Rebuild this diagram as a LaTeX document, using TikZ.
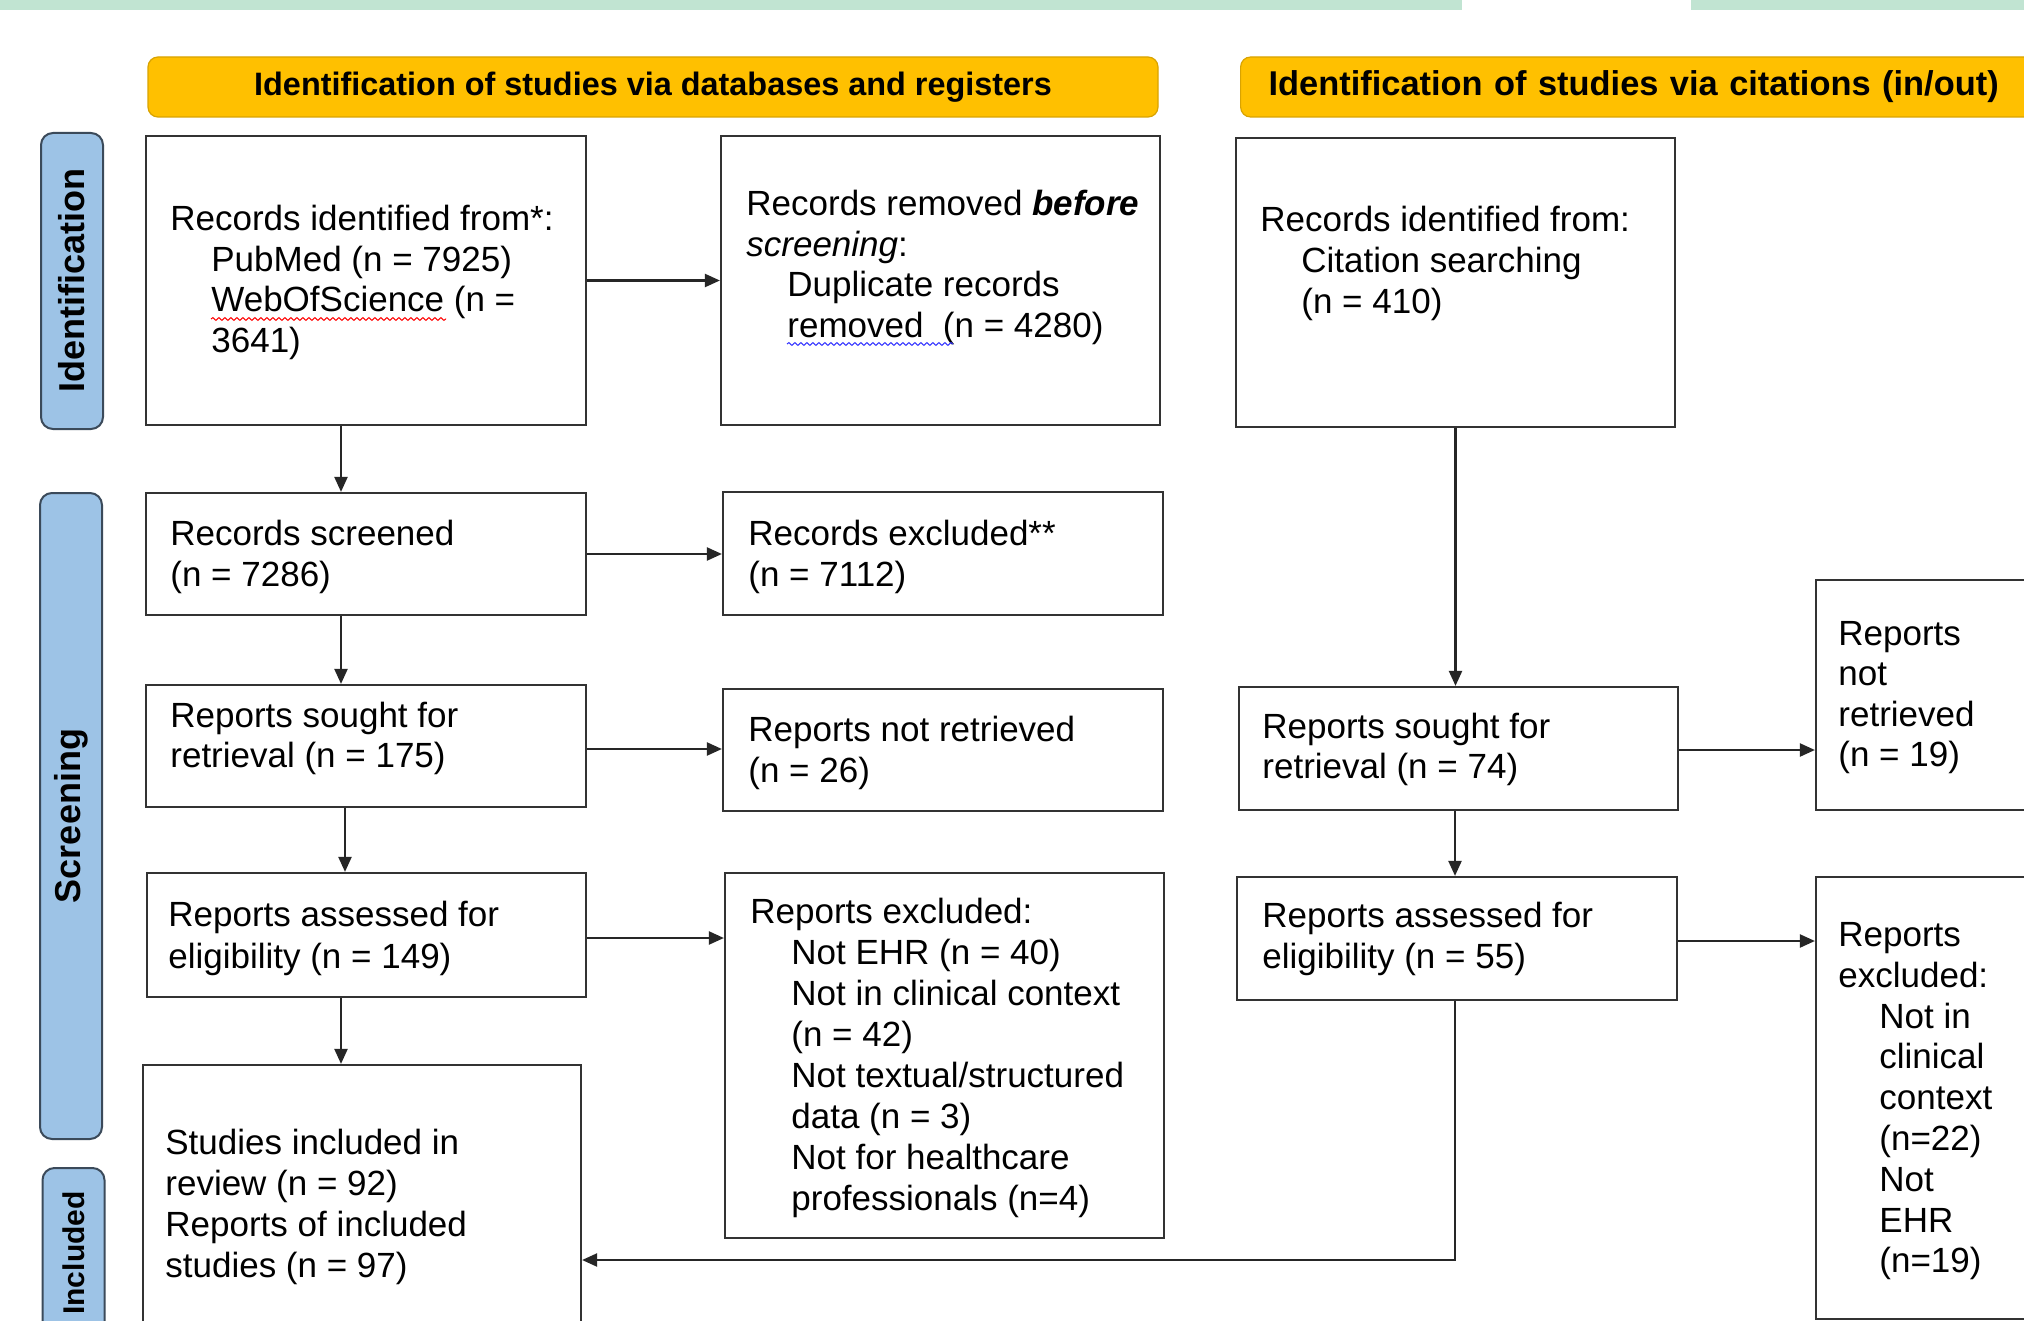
\documentclass[tikz,border=0pt]{standalone}
\usepackage{fontspec}
\setmainfont{Liberation Sans}
\usetikzlibrary{arrows.meta,fit,decorations.pathmorphing}
\definecolor{hdrfill}{HTML}{FFC000}
\definecolor{hdrline}{HTML}{D9A300}
\definecolor{sidefill}{HTML}{9DC3E6}
\definecolor{sideline}{HTML}{3B4A5A}
\definecolor{boxline}{HTML}{333333}
\definecolor{bargreen}{HTML}{C1E4D2}
\newcommand{\ind}{\hspace*{20.5pt}}
\newcommand{\fst}{\rule{0pt}{14pt}}
\begin{document}
\begin{tikzpicture}[x=0.5pt,y=-0.5pt,
  box/.style={draw=boxline, line width=1.1pt, inner sep=0pt, fill=white},
  txt/.style={anchor=north west, inner sep=0pt, align=left, font=\fontsize{17.5}{20.3}\selectfont},
  arr/.style={draw=black!85, line width=1.1pt, -{Triangle[length=7.5pt,width=6.5pt]}},
  hdr/.style={draw=hdrline, fill=hdrfill, line width=0.6pt, rounded corners=5pt, minimum height=30pt, inner sep=0pt, font=\bfseries\fontsize{16.2}{18}\selectfont},
  side/.style={draw=sideline, fill=sidefill, line width=1pt, rounded corners=6pt, rotate=90, minimum height=31pt, inner sep=0pt, font=\bfseries\fontsize{18}{20}\selectfont},
  wavy/.style={line width=0.5pt, decorate, decoration={snake, amplitude=0.7pt, segment length=3pt}}
]
\useasboundingbox (0,0) rectangle (2024,1321);
\clip (0,0) rectangle (2024,1321);
\fill[white] (0,0) rectangle (2024,1321);

% top green bars
\fill[bargreen] (0,0) rectangle (1462,10);
\fill[bargreen] (1691,0) rectangle (2024,10);

% headers
\node[hdr, minimum width=505pt] (H1) at (653,87) {Identification of studies via databases and registers};
\node[hdr, anchor=west, text width=400pt, inner xsep=14pt, align=left, font=\bfseries\fontsize{17.2}{19}\selectfont] (H2) at (1240,87) {Identification of studies via citations (in/out)};

% side labels
\node[side, minimum width=148pt] (S1) at (72,281) {Identification};
\node[side, minimum width=323pt] (S2) at (71,816) {Screening};
\node[side, minimum width=85pt, font=\bfseries\fontsize{15}{17}\selectfont] (S3) at (73.5,1253) {Included};

% boxes
\node[box, fit={(146,136) (586,425)}] (A) {};
\node[box, fit={(721,136) (1160,425)}] (B) {};
\node[box, fit={(1236,138) (1675,427)}] (C) {};
\node[box, fit={(146,493) (586,615)}] (D) {};
\node[box, fit={(723,492) (1163,615)}] (E) {};
\node[box, fit={(146,685) (586,807)}] (F) {};
\node[box, fit={(723,689) (1163,811)}] (G) {};
\node[box, fit={(1239,687) (1678,810)}] (H) {};
\node[box, fit={(1816,580) (2100,810)}] (I) {};
\node[box, fit={(147,873) (586,997)}] (J) {};
\node[box, fit={(725,873) (1164,1238)}] (K) {};
\node[box, fit={(1237,877) (1677,1000)}] (L) {};
\node[box, fit={(1816,877) (2100,1319)}] (M) {};
\node[box, fit={(143,1065) (581,1400)}] (N) {};

% texts (north west = first baseline - 28px)
\node[txt, font=\fontsize{17.5}{20.4}\selectfont] (At) at (170,202) {\fst Records identified from*:\\\ind PubMed (n = 7925)\\\ind WebOfScience (n =\\\ind 3641)};
\node[txt] (Bt) at (746,187) {\fst Records removed \textbf{\textit{before}}\\\textit{screening}:\\\ind Duplicate records\\\ind removed\ \ (n = 4280)};
\node[txt, font=\fontsize{17.5}{20.5}\selectfont] (Ct) at (1260,203) {\fst Records identified from:\\\ind Citation searching\\\ind (n = 410)};
\node[txt] (Dt) at (170,517) {\fst Records screened\\(n = 7286)};
\node[txt] (Et) at (748,517) {\fst Records excluded**\\(n = 7112)};
\node[txt, font=\fontsize{17.5}{20}\selectfont] (Ft) at (170,699) {\fst Reports sought for\\retrieval (n = 175)};
\node[txt] (Gt) at (748,713) {\fst Reports not retrieved\\(n = 26)};
\node[txt, font=\fontsize{17.5}{20}\selectfont] (Ht) at (1262,710) {\fst Reports sought for\\retrieval (n = 74)};
\node[txt, font=\fontsize{17.5}{20.2}\selectfont] (It) at (1838,617) {\fst Reports\\not\\retrieved\\(n = 19)};
\node[txt, font=\fontsize{17.5}{21}\selectfont] (Jt) at (168,898) {\fst Reports assessed for\\eligibility (n = 149)};
\node[txt, font=\fontsize{17.5}{20.5}\selectfont] (Kt) at (750,895) {\fst Reports excluded:\\\ind Not EHR (n = 40)\\\ind Not in clinical context\\\ind (n = 42)\\\ind Not textual/structured\\\ind data (n = 3)\\\ind Not for healthcare\\\ind professionals (n=4)};
\node[txt, font=\fontsize{17.5}{20.5}\selectfont] (Lt) at (1262,899) {\fst Reports assessed for\\eligibility (n = 55)};
\node[txt, font=\fontsize{17.5}{20.4}\selectfont] (Mt) at (1838,918) {\fst Reports\\excluded:\\\ind Not in\\\ind clinical\\\ind context\\\ind (n=22)\\\ind Not\\\ind EHR\\\ind (n=19)};
\node[txt, font=\fontsize{17.5}{20.5}\selectfont] (Nt) at (165,1126) {\fst Studies included in\\review (n = 92)\\Reports of included\\studies (n = 97)};

% spell-check underlines
\draw[wavy, red] (211,319) -- (446,319);
\draw[wavy, blue!80] (787,344) -- (953,344);

% helper coordinates
\coordinate (xa) at (341,0);
\coordinate (xb) at (345,0);
\coordinate (xr) at (1455,0);
\coordinate (yFG) at (0,749);
\coordinate (yJK) at (0,938);
\coordinate (yHI) at (0,750);
\coordinate (yLM) at (0,941);
\coordinate (yN) at (0,1260);

% connectors
\draw[arr] (A.east) -- (B.west);
\draw[arr] (xa |- A.south) -- (xa |- D.north);
\draw[arr] (D.east) -- (D.east -| E.west);
\draw[arr] (xa |- D.south) -- (xa |- F.north);
\draw[arr] (F.east |- yFG) -- (G.west |- yFG);
\draw[arr] (xb |- F.south) -- (xb |- J.north);
\draw[arr] (J.east |- yJK) -- (K.west |- yJK);
\draw[arr] (xa |- J.south) -- (xa |- N.north);
\draw[arr] (C.south) -- (C.south |- H.north);
\draw[arr] (H.east |- yHI) -- (I.west |- yHI);
\draw[arr] (xr |- H.south) -- (xr |- L.north);
\draw[arr] (L.east |- yLM) -- (M.west |- yLM);
\draw[arr] (xr |- L.south) -- (xr |- yN) -- (N.east |- yN);
\end{tikzpicture}
\end{document}
